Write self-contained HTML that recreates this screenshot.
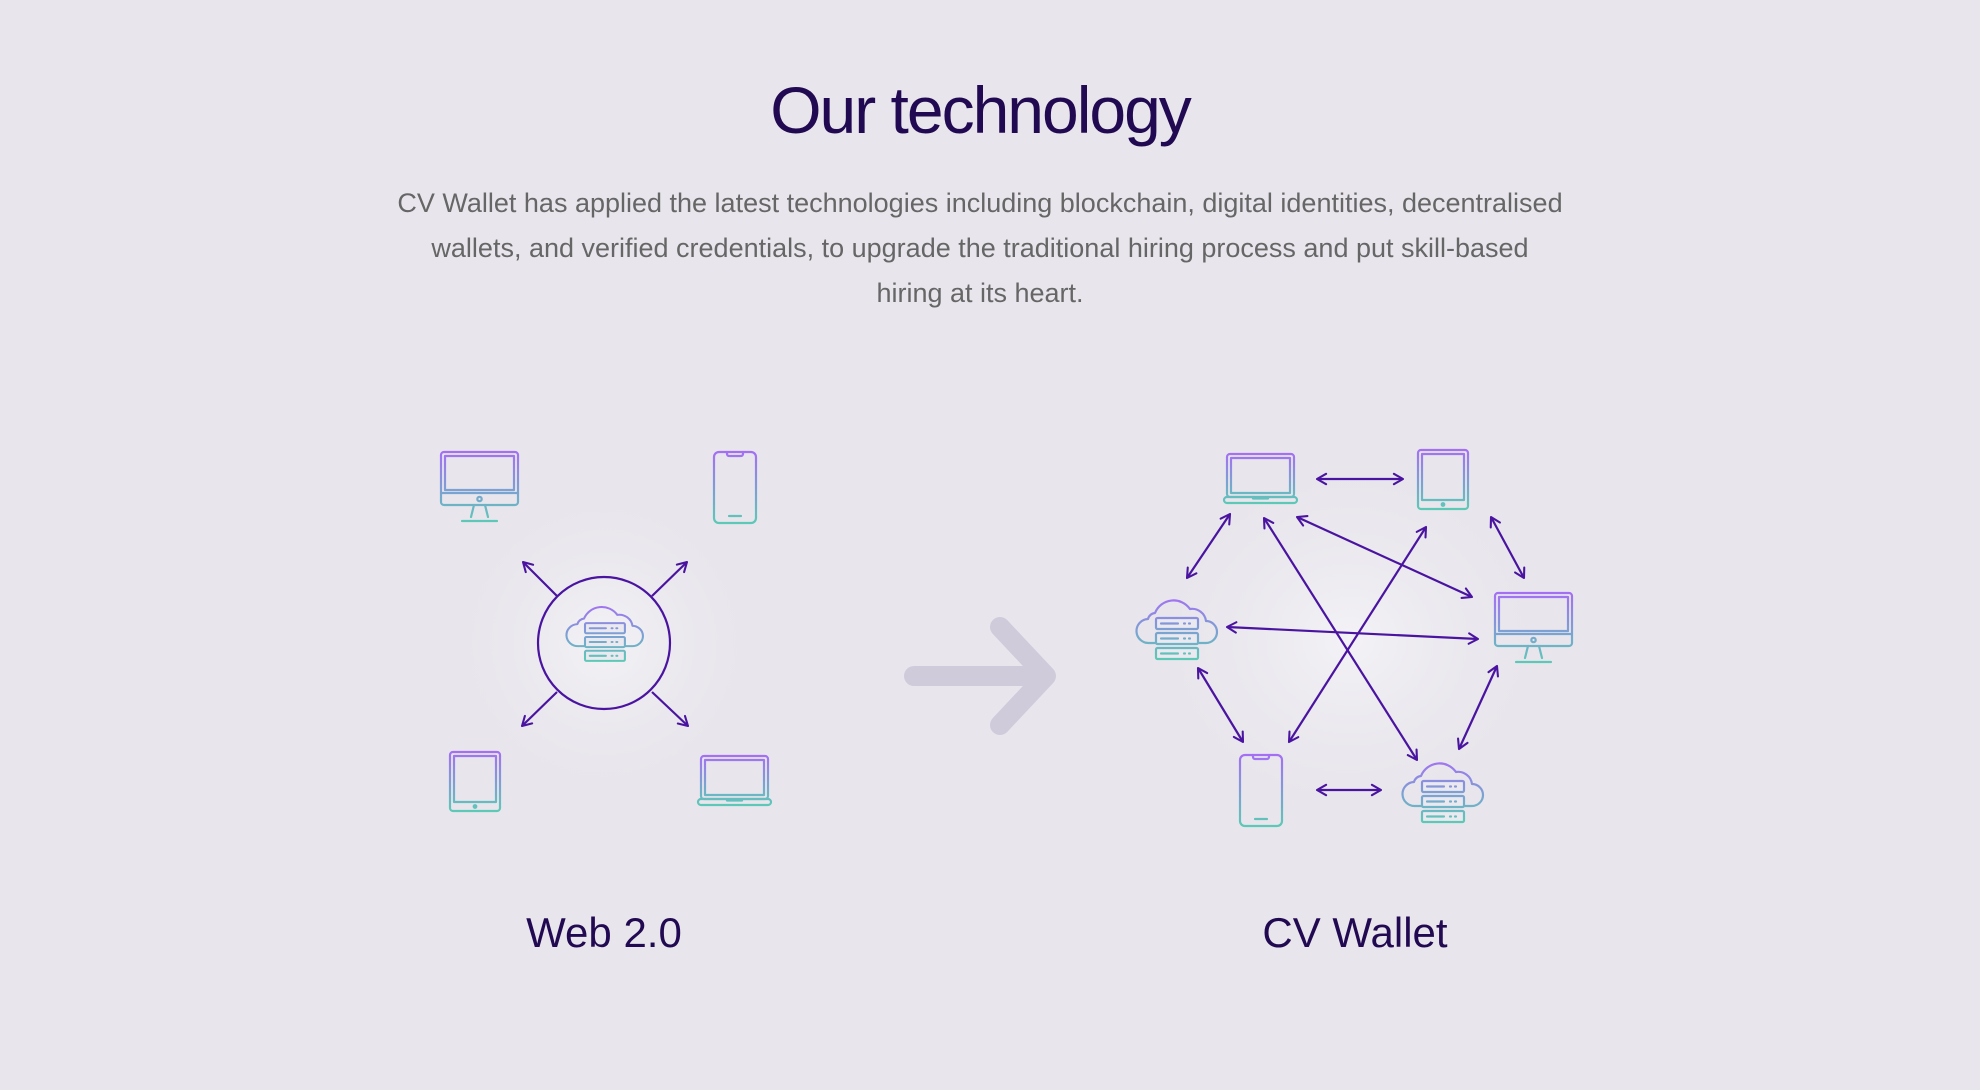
<!DOCTYPE html>
<html><head><meta charset="utf-8"><style>
html,body{margin:0;padding:0;background:#e8e6ec;}
body{width:1980px;height:1085px;overflow:hidden;font-family:"Liberation Sans",sans-serif;}
</style></head><body>
<svg width="1980" height="1085" viewBox="0 0 1980 1085" xmlns="http://www.w3.org/2000/svg">
<defs>
<radialGradient id="glow" cx="50%" cy="50%" r="50%">
<stop offset="0" stop-color="#f3f2f6"/><stop offset="1" stop-color="#e8e6ec" stop-opacity="0"/>
</radialGradient>
<linearGradient id="g72" gradientUnits="userSpaceOnUse" x1="0" y1="0" x2="0" y2="72"><stop offset="0" stop-color="#a56ef5"/><stop offset="1" stop-color="#5ccab6"/></linearGradient>
<linearGradient id="g73" gradientUnits="userSpaceOnUse" x1="0" y1="0" x2="0" y2="73"><stop offset="0" stop-color="#a56ef5"/><stop offset="1" stop-color="#5ccab6"/></linearGradient>
<linearGradient id="g61" gradientUnits="userSpaceOnUse" x1="0" y1="0" x2="0" y2="61"><stop offset="0" stop-color="#a56ef5"/><stop offset="1" stop-color="#5ccab6"/></linearGradient>
<linearGradient id="g51" gradientUnits="userSpaceOnUse" x1="0" y1="0" x2="0" y2="51"><stop offset="0" stop-color="#a56ef5"/><stop offset="1" stop-color="#5ccab6"/></linearGradient>
<linearGradient id="g65" gradientUnits="userSpaceOnUse" x1="0" y1="0" x2="0" y2="65"><stop offset="0" stop-color="#a56ef5"/><stop offset="1" stop-color="#5ccab6"/></linearGradient>
<marker id="ah" viewBox="0 0 10 10" refX="9" refY="5" markerWidth="13" markerHeight="13" orient="auto-start-reverse" markerUnits="userSpaceOnUse">
<path d="M2,1 L9,5 L2,9" fill="none" stroke="#4a14a0" stroke-width="1.6" stroke-linecap="round" stroke-linejoin="round"/>
</marker>
<g id="monitor" fill="none" stroke="url(#g72)" stroke-width="2.2" stroke-linecap="round" stroke-linejoin="round">
<rect x="1" y="1" width="77" height="53" rx="3"/><rect x="5" y="5" width="69" height="34"/><line x1="1" y1="42" x2="78" y2="42"/><circle cx="39.5" cy="48" r="2.2"/><path d="M34,54 L31,66 M45,54 L48,66"/><line x1="22" y1="70" x2="57" y2="70"/>
</g>
<g id="phone" fill="none" stroke="url(#g73)" stroke-width="2.2" stroke-linecap="round" stroke-linejoin="round">
<rect x="1" y="1" width="42" height="71" rx="5"/><path d="M14,1 v2 a2,2 0 0 0 2,2 h12 a2,2 0 0 0 2,-2 v-2"/><line x1="16" y1="65" x2="28" y2="65"/>
</g>
<g id="tablet" fill="none" stroke="url(#g61)" stroke-width="2.2" stroke-linecap="round" stroke-linejoin="round">
<rect x="1" y="1" width="50" height="59" rx="3"/><rect x="5" y="5" width="42" height="46"/><circle cx="26" cy="55.5" r="1.3" fill="#5ccab6"/>
</g>
<g id="laptop" fill="none" stroke="url(#g51)" stroke-width="2.2" stroke-linecap="round" stroke-linejoin="round">
<rect x="4" y="1" width="67" height="43" rx="3"/><rect x="8" y="5" width="59" height="35"/><rect x="1" y="44" width="73" height="6" rx="3"/><path d="M30,44 v1.5 h15 v-1.5"/>
</g>
<g id="cloud" fill="none" stroke="url(#g65)" stroke-width="2.2" stroke-linecap="round" stroke-linejoin="round">
<path d="M20,48 H13 A12,12 0 0 1 12,24 A8,8 0 0 1 19,18 A20,20 0 0 1 54,14 A14,14 0 0 1 70,26 A11,11 0 0 1 70,48 H62"/>
<rect x="20" y="23" width="42" height="11" rx="1.5" fill="#ebe9f0"/><rect x="20" y="38" width="42" height="11" rx="1.5" fill="#ebe9f0"/><rect x="20" y="53" width="42" height="11" rx="1.5" fill="#ebe9f0"/>
<path d="M25,28.5 h17 M48,28.5 h1 M53,28.5 h1 M25,43.5 h17 M48,43.5 h1 M53,43.5 h1 M25,58.5 h17 M48,58.5 h1 M53,58.5 h1"/>
</g>
</defs>

<ellipse cx="604" cy="643" rx="170" ry="170" fill="url(#glow)"/>
<ellipse cx="1350" cy="640" rx="220" ry="200" fill="url(#glow)"/>

<text x="980" y="133" text-anchor="middle" font-family="Liberation Sans, sans-serif" font-size="66" fill="#220a52" letter-spacing="-2">Our technology</text>
<g font-family="Liberation Sans, sans-serif" font-size="27" fill="#666" text-anchor="middle">
<text x="980" y="212">CV Wallet has applied the latest technologies including blockchain, digital identities, decentralised</text>
<text x="980" y="257">wallets, and verified credentials, to upgrade the traditional hiring process and put skill-based</text>
<text x="980" y="302">hiring at its heart.</text>
</g>

<!-- Left -->
<use href="#monitor" transform="translate(440,451)"/>
<use href="#phone" transform="translate(713,451)"/>
<use href="#tablet" transform="translate(449,751)"/>
<use href="#laptop" transform="translate(697,755)"/>
<circle cx="604" cy="643" r="66" fill="none" stroke="#4a14a0" stroke-width="2.2"/>
<use href="#cloud" transform="translate(566,602) scale(0.95,0.92)"/>
<g stroke="#4a14a0" stroke-width="2.2" fill="none" marker-end="url(#ah)">
<line x1="557" y1="596" x2="523" y2="562"/>
<line x1="652" y1="596" x2="687" y2="562"/>
<line x1="557" y1="692" x2="522" y2="726"/>
<line x1="652" y1="692" x2="688" y2="726"/>
</g>

<!-- big arrow -->
<path d="M914,676 H1042 M1000,627 L1046,676 L1000,725" fill="none" stroke="#cfcbdb" stroke-width="20" stroke-linecap="round" stroke-linejoin="round"/>

<!-- Right -->
<use href="#laptop" transform="translate(1223,453)"/>
<use href="#tablet" transform="translate(1417,449)"/>
<use href="#cloud" transform="translate(1136,595)"/>
<use href="#monitor" transform="translate(1494,592)"/>
<use href="#phone" transform="translate(1239,754)"/>
<use href="#cloud" transform="translate(1402,758)"/>
<g stroke="#4a14a0" stroke-width="2.2" fill="none" marker-start="url(#ah)" marker-end="url(#ah)">
<line x1="1317" y1="479" x2="1403" y2="479"/>
<line x1="1230" y1="514" x2="1187" y2="578"/>
<line x1="1264" y1="518" x2="1417" y2="760"/>
<line x1="1297" y1="517" x2="1472" y2="597"/>
<line x1="1491" y1="517" x2="1524" y2="578"/>
<line x1="1426" y1="527" x2="1289" y2="742"/>
<line x1="1227" y1="627" x2="1478" y2="639"/>
<line x1="1198" y1="668" x2="1243" y2="742"/>
<line x1="1497" y1="666" x2="1459" y2="749"/>
<line x1="1317" y1="790" x2="1381" y2="790"/>
</g>

<text x="604" y="947" text-anchor="middle" font-family="Liberation Sans, sans-serif" font-size="42" fill="#220a52">Web 2.0</text>
<text x="1355" y="947" text-anchor="middle" font-family="Liberation Sans, sans-serif" font-size="42" fill="#220a52">CV Wallet</text>
</svg>
</body></html>
